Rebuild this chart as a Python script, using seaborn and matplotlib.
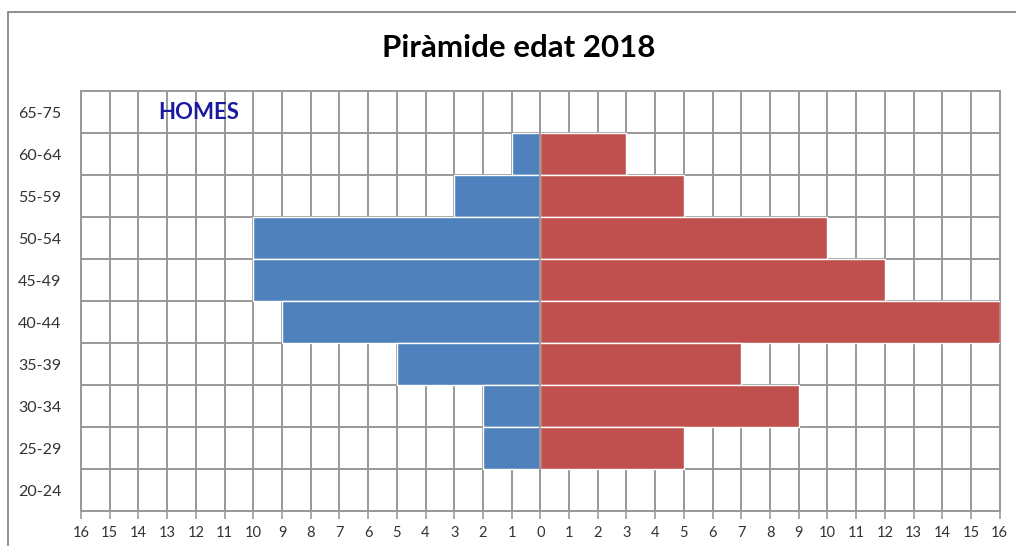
import numpy as np
import pandas as pd
import matplotlib
matplotlib.use("Agg")
import matplotlib.pyplot as plt
import seaborn as sns
from matplotlib.lines import Line2D

age_groups = ["65-75", "60-64", "55-59", "50-54", "45-49", "40-44", "35-39", "30-34", "25-29", "20-24"]
homes = [0, 1, 3, 10, 10, 9, 5, 2, 2, 0]
dones = [0, 3, 5, 10, 12, 16, 7, 9, 5, 0]
x_ticks = list(range(-16, 17))
x_labels = [str(abs(v)) for v in x_ticks]

sns.set_style("white")
plt.rcParams['font.family'] = ['Lato', 'DejaVu Sans']

df = pd.DataFrame({
    "age": age_groups * 2,
    "value": [-v for v in homes] + dones,
    "sex": ["Homes"] * len(age_groups) + ["Dones"] * len(age_groups),
})

fig = plt.figure(figsize=(10.16, 5.46), dpi=100)
ax = fig.add_axes([0.0797, 0.0641, 0.9043, 0.7692])

grid_c = "#999999"
sns.barplot(data=df, y="age", x="value", hue="sex", order=age_groups,
            palette={"Homes": "#4F81BD", "Dones": "#C0504D"}, dodge=False,
            saturation=1, width=1.0, edgecolor="white", linewidth=1.0,
            legend=False, ax=ax, zorder=3)

ax.set_xlim(-16, 16)
ax.set_ylim(len(age_groups) - 0.5, -0.5)
ax.set_xticks(x_ticks)
ax.set_xticklabels(x_labels, fontsize=10.5, color="#333333")
ax.set_yticks(range(len(age_groups)))
ax.set_yticklabels(age_groups, fontsize=11.5, color="#333333")
ax.set_yticks(np.arange(-0.5, len(age_groups), 1), minor=True)
ax.tick_params(axis="y", which="both", length=0, pad=14)
ax.tick_params(axis="x", which="major", length=6, width=1.2, color=grid_c, direction="out", pad=5, bottom=True)
ax.set_axisbelow(True)
ax.grid(axis="x", which="major", color=grid_c, linewidth=1.4, zorder=0)
ax.grid(axis="y", which="minor", color=grid_c, linewidth=1.4, zorder=0)
ax.grid(axis="y", which="major", visible=False)
for s in ax.spines.values():
    s.set_color(grid_c)
    s.set_linewidth(1.4)
ax.axvline(0, color=grid_c, linewidth=1.4, zorder=5)
ax.set_xlabel("")
ax.set_ylabel("")

ax.text(-11.9, 0, "HOMES", color="#1A1AA0", fontsize=16, fontweight="bold",
        ha="center", va="center", zorder=6)

fig.text(0.511, 0.913, "Piràmide edat 2018", ha="center", va="center",
         fontsize=22.5, fontweight="bold", color="black")

fig.add_artist(Line2D([0.008, 0.008], [0.0, 0.978], transform=fig.transFigure, color="#888888", linewidth=1.3))
fig.add_artist(Line2D([0.008, 1.0], [0.978, 0.978], transform=fig.transFigure, color="#888888", linewidth=1.3))

fig.savefig("out.png", dpi=100, facecolor="white")
